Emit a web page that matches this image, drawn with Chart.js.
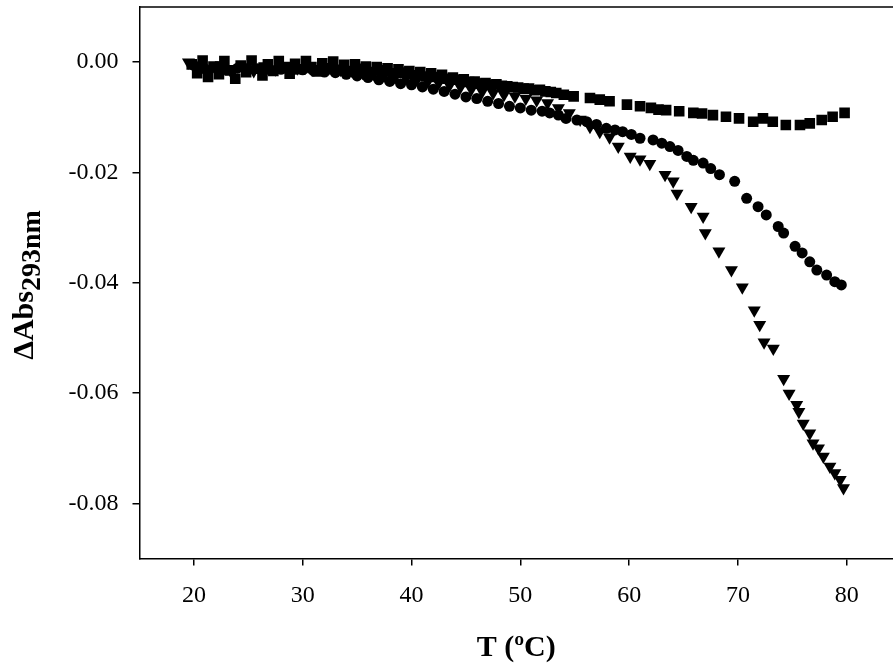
<!DOCTYPE html>
<html>
<head>
<meta charset="utf-8">
<script src="https://cdn.jsdelivr.net/npm/chart.js@4/dist/chart.umd.min.js"></script>
<style>
  body { margin: 0; background: #fff; }
  #wrap { width: 893px; height: 666px; }
</style>
</head>
<body>
<div id="wrap"><canvas id="chart"></canvas></div>
<script>
// squares
const tempSquares = [19.8, 20.3, 20.8, 21.3, 21.8, 22.3, 22.8, 23.3, 23.8, 24.3, 24.8, 25.3, 25.8, 26.3, 26.8, 27.3, 27.8, 28.3, 28.8, 29.3,
    29.8, 30.3, 30.8, 31.3, 31.8, 32.3, 32.8, 33.3, 33.8, 34.3, 34.8, 35.3, 35.8, 36.3, 36.8, 37.3, 37.8, 38.3, 38.8, 39.3,
    39.8, 40.3, 40.8, 41.3, 41.8, 42.3, 42.8, 43.3, 43.8, 44.3, 44.8, 45.3, 45.8, 46.3, 46.8, 47.3, 47.8, 48.3, 48.8, 49.3,
    49.8, 50.3, 50.8, 51.3, 51.8, 52.3, 52.8, 53.3, 54.0,
    54.9, 56.4, 57.3, 58.2, 59.8, 61.0, 62.0, 62.7, 63.4, 64.6, 65.9, 66.7, 67.7, 68.9, 70.1, 71.4, 72.3, 73.2, 74.4, 75.7,
    76.6, 77.7, 78.7, 79.8];
const absSquares = [-0.0004, -0.0020, 0.0003, -0.0027, -0.0008, -0.0022, 0.0002, -0.0015, -0.0030, -0.0006, -0.0018, 0.0003, -0.0012, -0.0024, -0.0004, -0.0016, 0.0002, -0.0010, -0.0021, -0.0003,
    -0.0013, 0.0002, -0.0009, -0.0017, -0.0002, -0.0011, 0.0001, -0.0014, -0.0005, -0.0016, -0.0004, -0.0012, -0.0008, -0.0018, -0.0009, -0.0015, -0.0011, -0.0020, -0.0013, -0.0019,
    -0.0016, -0.0024, -0.0018, -0.0026, -0.0020, -0.0027, -0.0023, -0.0030, -0.0028, -0.0032, -0.0031, -0.0036, -0.0035, -0.0039, -0.0038, -0.0041, -0.0040, -0.0043, -0.0044, -0.0045,
    -0.0046, -0.0048, -0.0048, -0.0051, -0.0050, -0.0053, -0.0054, -0.0056, -0.0059,
    -0.0062, -0.0065, -0.0068, -0.0071, -0.0077, -0.0080, -0.0083, -0.0086, -0.0087, -0.0089, -0.0092, -0.0093, -0.0096, -0.0099, -0.0102, -0.0108, -0.0102, -0.0108, -0.0114, -0.0114,
    -0.0111, -0.0105, -0.0099, -0.0092];

// circles
const tempCircles = [20, 21, 22, 23, 24, 25, 26, 27, 28, 29, 30, 31, 32, 33, 34, 35, 36, 37, 38, 39,
    40, 41, 42, 43, 44, 45, 46, 47, 48, 49, 50, 51, 52,
    52.7, 53.5, 54.2, 55.2, 56.1, 57.0, 57.9, 58.7, 59.4, 60.2, 61.0, 62.2, 63.0, 63.75, 64.5, 65.3, 65.9, 66.8, 67.5, 68.3,
    69.7, 70.8, 71.85, 72.6, 73.7, 74.2, 75.25, 75.9, 76.6, 77.25, 78.15, 78.9, 79.5];
const absCircles = [-0.0006, -0.0012, -0.0010, -0.0014, -0.0011, -0.0013, -0.0012, -0.0014, -0.0013, -0.0015, -0.0014, -0.0016, -0.0018, -0.0019, -0.0022, -0.0025, -0.0028, -0.0032, -0.0035, -0.0039,
    -0.0041, -0.0045, -0.0049, -0.0053, -0.0058, -0.0063, -0.0066, -0.0071, -0.0075, -0.0080, -0.0083, -0.0087, -0.0089,
    -0.0092, -0.0096, -0.0102, -0.0105, -0.0108, -0.0113, -0.0120, -0.0123, -0.0126, -0.0131, -0.0138, -0.0141, -0.0147, -0.0153, -0.0160, -0.0171, -0.0178, -0.0183, -0.0193, -0.0204,
    -0.0216, -0.0247, -0.0262, -0.0277, -0.0298, -0.0310, -0.0334, -0.0346, -0.0362, -0.0377, -0.0386, -0.0398, -0.0404];

// triangles (pointing down)
const tempTriangles = [19.5, 20.5, 21.5, 22.5, 23.5, 24.5, 25.5, 26.5, 27.5, 28.5, 29.5, 30.5, 31.5, 32.5, 33.5, 34.5, 35.5, 36.5, 37.5, 38.5,
    39.5, 40.5, 41.5, 42.5, 43.5, 44.5, 45.5, 46.5, 47.5, 48.5, 49.5, 50.5, 51.5, 52.5,
    53.5, 54.5, 55.5, 56.4, 57.3, 58.2, 59.0, 60.1, 61.0, 61.9, 63.3, 64.05, 64.4, 65.7, 66.8, 67.0, 68.25, 69.4,
    70.4, 71.5, 72.0, 72.4, 73.25, 74.2, 74.7, 75.4, 75.6, 76.0, 76.6, 76.9, 77.4, 77.85, 78.45, 78.9, 79.4, 79.7];
const absTriangles = [0.0000, -0.0008, -0.0016, -0.0005, -0.0020, -0.0009, -0.0016, -0.0007, -0.0013, -0.0006, -0.0011, -0.0008, -0.0012, -0.0010, -0.0014, -0.0015, -0.0019, -0.0021, -0.0024, -0.0027,
    -0.0029, -0.0032, -0.0035, -0.0038, -0.0042, -0.0045, -0.0049, -0.0053, -0.0056, -0.0059, -0.0062, -0.0066, -0.0069, -0.0074,
    -0.0083, -0.0092, -0.0104, -0.0117, -0.0126, -0.0136, -0.0153, -0.0171, -0.0176, -0.0184, -0.0204, -0.0216, -0.0238, -0.0262, -0.0280, -0.0310, -0.0343, -0.0377,
    -0.0408, -0.0450, -0.0476, -0.0508, -0.0519, -0.0574, -0.0601, -0.0621, -0.0634, -0.0655, -0.0673, -0.0691, -0.0700, -0.0715, -0.0733, -0.0745, -0.0757, -0.0772];

const xTicks = [20, 30, 40, 50, 60, 70, 80];
const yTicks = [0, -0.02, -0.04, -0.06, -0.08];

const serif = "'Liberation Serif'";

function toPoints(xs, ys) {
    return xs.map((x, i) => ({ x: x, y: ys[i] }));
}

function noPadding(scale) {
    scale.paddingTop = 0;
    scale.paddingBottom = 0;
    scale.paddingLeft = 0;
    scale.paddingRight = 0;
}

// top frame line + y title with subscript
const frameAndTitle = {
    id: 'frameAndTitle',
    afterDraw(chart) {
        const { ctx, chartArea } = chart;
        ctx.save();
        ctx.strokeStyle = '#000';
        ctx.lineWidth = 1.5;
        ctx.beginPath();
        ctx.moveTo(chartArea.left, chartArea.top);
        ctx.lineTo(chartArea.right, chartArea.top);
        ctx.stroke();

        ctx.fillStyle = '#000';
        ctx.textBaseline = 'alphabetic';
        ctx.font = 'bold 30px ' + serif;
        const main = 'ΔAbs';
        const w1 = ctx.measureText(main).width;
        ctx.font = 'bold 28px ' + serif;
        const sub = '293nm';
        const w2 = ctx.measureText(sub).width;
        ctx.translate(33, 285);
        ctx.rotate(-Math.PI / 2);
        const start = -(w1 + w2) / 2;
        ctx.font = 'bold 30px ' + serif;
        ctx.fillText(main, start, 0);
        ctx.font = 'bold 28px ' + serif;
        ctx.fillText(sub, start + w1, 7);
        ctx.restore();
    }
};

let myChart;

function drawChart() {
    const ctx = document.getElementById('chart').getContext('2d');
    myChart = new Chart(ctx, {
        type: 'scatter',
        data: {
            datasets: [{
                label: 'squares',
                data: toPoints(tempSquares, absSquares),
                pointStyle: 'rect',
                pointRadius: 7.5,
                backgroundColor: '#000',
                borderWidth: 0
            }, {
                label: 'triangles',
                data: toPoints(tempTriangles, absTriangles),
                pointStyle: 'triangle',
                rotation: 180,
                pointRadius: 7.5,
                backgroundColor: '#000',
                borderWidth: 0
            }, {
                label: 'circles',
                data: toPoints(tempCircles, absCircles),
                pointStyle: 'circle',
                pointRadius: 5.5,
                backgroundColor: '#000',
                borderWidth: 0
            }]
        },
        options: {
            responsive: true,
            maintainAspectRatio: false,
            animation: false,
            layout: { autoPadding: false, padding: { top: 7, right: 0, left: 0, bottom: 0 } },
            plugins: {
                legend: { display: false },
                tooltip: { enabled: false }
            },
            scales: {
                x: {
                    type: 'linear',
                    min: 15,
                    max: 84.25,
                    afterBuildTicks: (scale) => { scale.ticks = xTicks.map(v => ({ value: v })); },
                    afterFit: (scale) => { scale.height = 107.5; noPadding(scale); },
                    ticks: {
                        color: '#000',
                        font: { family: serif, size: 24 },
                        padding: 16,
                        maxRotation: 0,
                        callback: (v) => String(v)
                    },
                    grid: { drawOnChartArea: false, drawTicks: true, tickLength: 7, color: '#000', lineWidth: 1.5 },
                    border: { display: true, color: '#000', width: 1.5 },
                    title: {
                        display: true,
                        text: 'T (ºC)',
                        color: '#000',
                        font: { family: serif, size: 30, weight: 'bold' },
                        padding: { top: 0, bottom: 0 }
                    }
                },
                y: {
                    type: 'linear',
                    min: -0.09,
                    max: 0.01,
                    afterBuildTicks: (scale) => { scale.ticks = yTicks.map(v => ({ value: v })); },
                    afterFit: (scale) => { scale.width = 139.5; noPadding(scale); },
                    ticks: {
                        color: '#000',
                        font: { family: serif, size: 24 },
                        padding: 14,
                        callback: (v) => v.toFixed(2)
                    },
                    grid: { drawOnChartArea: false, drawTicks: true, tickLength: 7, color: '#000', lineWidth: 1.5 },
                    border: { display: true, color: '#000', width: 1.5 }
                }
            }
        },
        plugins: [frameAndTitle]
    });
}

Promise.all([
    document.fonts.load("24px 'Liberation Serif'"),
    document.fonts.load("bold 30px 'Liberation Serif'")
]).then(drawChart, drawChart);
</script>
</body>
</html>
